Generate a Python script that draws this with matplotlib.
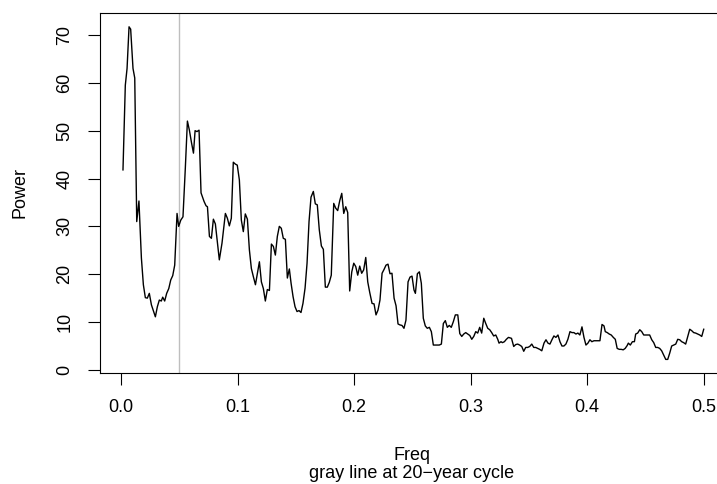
import matplotlib
matplotlib.use("Agg")
import matplotlib.pyplot as plt

freq = [
    0.0015, 0.0035, 0.0050, 0.0067, 0.0081, 0.0101, 0.0116, 0.0133, 0.0152, 0.0173,
    0.0190, 0.0207, 0.0224, 0.0241, 0.0259, 0.0293, 0.0310, 0.0327, 0.0344, 0.0356,
    0.0373, 0.0390, 0.0408, 0.0425, 0.0442, 0.0459, 0.0479, 0.0493, 0.0511, 0.0530,
    0.0550, 0.0568, 0.0585, 0.0603, 0.0620, 0.0634, 0.0650, 0.0668, 0.0685, 0.0711,
    0.0728, 0.0740, 0.0757, 0.0774, 0.0791, 0.0808, 0.0842, 0.0865, 0.0894, 0.0911,
    0.0928, 0.0945, 0.0962, 0.0980, 0.0996, 0.1014, 0.1031, 0.1048, 0.1065, 0.1083,
    0.1100, 0.1117, 0.1134, 0.1152, 0.1169, 0.1186, 0.1203, 0.1220, 0.1237, 0.1254,
    0.1272, 0.1289, 0.1306, 0.1323, 0.1340, 0.1357, 0.1374, 0.1391, 0.1409, 0.1426,
    0.1443, 0.1458, 0.1475, 0.1492, 0.1509, 0.1526, 0.1543, 0.1560, 0.1578, 0.1595,
    0.1612, 0.1629, 0.1649, 0.1666, 0.1683, 0.1700, 0.1718, 0.1735, 0.1752, 0.1769,
    0.1786, 0.1803, 0.1824, 0.1841, 0.1858, 0.1876, 0.1893, 0.1910, 0.1927, 0.1944,
    0.1961, 0.1979, 0.1996, 0.2013, 0.2030, 0.2047, 0.2064, 0.2081, 0.2099, 0.2116,
    0.2133, 0.2153, 0.2170, 0.2187, 0.2204, 0.2221, 0.2239, 0.2256, 0.2273, 0.2290,
    0.2307, 0.2324, 0.2342, 0.2359, 0.2376, 0.2393, 0.2410, 0.2427, 0.2444, 0.2462,
    0.2479, 0.2496, 0.2513, 0.2525, 0.2542, 0.2559, 0.2576, 0.2593, 0.2610, 0.2627,
    0.2645, 0.2662, 0.2679, 0.2696, 0.2713, 0.2730, 0.2748, 0.2765, 0.2782, 0.2799,
    0.2816, 0.2833, 0.2851, 0.2868, 0.2889, 0.2906, 0.2923, 0.2940, 0.2957, 0.2974,
    0.2992, 0.3009, 0.3026, 0.3043, 0.3060, 0.3077, 0.3094, 0.3112, 0.3129, 0.3146,
    0.3163, 0.3180, 0.3197, 0.3215, 0.3232, 0.3243, 0.3260, 0.3272, 0.3289, 0.3306,
    0.3324, 0.3350, 0.3369, 0.3386, 0.3403, 0.3420, 0.3438, 0.3455, 0.3472, 0.3489,
    0.3506, 0.3524, 0.3541, 0.3558, 0.3575, 0.3592, 0.3610, 0.3629, 0.3646, 0.3663,
    0.3680, 0.3697, 0.3714, 0.3731, 0.3749, 0.3766, 0.3783, 0.3800, 0.3817, 0.3834,
    0.3852, 0.3869, 0.3886, 0.3903, 0.3920, 0.3937, 0.3955, 0.3972, 0.3989, 0.4006,
    0.4023, 0.4040, 0.4058, 0.4075, 0.4092, 0.4109, 0.4127, 0.4144, 0.4155, 0.4172,
    0.4189, 0.4206, 0.4224, 0.4241, 0.4257, 0.4275, 0.4292, 0.4309, 0.4326, 0.4343,
    0.4353, 0.4370, 0.4388, 0.4405, 0.4416, 0.4433, 0.4451, 0.4468, 0.4485, 0.4502,
    0.4519, 0.4536, 0.4554, 0.4571, 0.4588, 0.4605, 0.4622, 0.4639, 0.4657, 0.4674,
    0.4691, 0.4708, 0.4725, 0.4742, 0.4760, 0.4777, 0.4794, 0.4811, 0.4828, 0.4845,
    0.4863, 0.4880, 0.4897, 0.4914, 0.4931, 0.4948, 0.4966, 0.4983, 0.5000,
]

power = [
    41.8, 59.5, 63.0, 71.7, 71.2, 63.0, 61.0, 31.0, 35.3, 23.4,
    17.8, 15.1, 15.0, 16.0, 13.6, 11.1, 13.2, 14.6, 14.4, 15.2,
    14.4, 16.0, 17.0, 18.8, 19.7, 21.9, 32.7, 30.0, 31.3, 32.0,
    42.1, 52.0, 50.1, 47.5, 45.3, 50.0, 49.8, 50.1, 37.0, 35.2,
    34.3, 34.1, 27.9, 27.5, 31.5, 30.5, 23.0, 26.5, 32.7, 31.7,
    30.1, 31.7, 43.4, 43.0, 42.8, 39.7, 31.3, 28.9, 32.6, 31.5,
    25.1, 21.2, 19.5, 17.8, 20.2, 22.6, 18.4, 17.0, 14.4, 16.8,
    16.6, 26.3, 25.8, 24.0, 27.9, 30.0, 29.6, 27.5, 27.3, 19.2,
    21.1, 18.1, 15.3, 13.2, 12.2, 12.4, 12.0, 13.9, 17.1, 22.3,
    31.0, 36.1, 37.3, 34.7, 34.5, 29.3, 25.9, 25.2, 17.3, 17.3,
    18.3, 19.8, 34.8, 33.8, 33.3, 35.4, 36.9, 32.7, 34.1, 32.9,
    16.5, 20.5, 22.3, 21.6, 19.8, 21.7, 20.2, 20.9, 23.5, 18.4,
    16.2, 13.9, 13.8, 11.5, 12.5, 14.6, 20.2, 21.0, 21.9, 22.1,
    20.1, 20.2, 15.0, 13.4, 9.6, 9.4, 9.3, 8.7, 10.4, 18.4,
    19.4, 19.6, 16.7, 16.0, 20.1, 20.5, 18.1, 10.8, 9.2, 8.7,
    8.9, 8.0, 5.2, 5.2, 5.2, 5.2, 5.4, 9.7, 10.3, 8.9,
    9.3, 8.9, 10.1, 11.5, 11.5, 7.6, 7.0, 7.5, 7.8, 7.5,
    7.2, 6.4, 7.0, 8.0, 7.7, 8.9, 7.7, 10.8, 9.7, 8.7,
    8.4, 7.8, 7.1, 7.3, 6.4, 5.6, 5.9, 5.7, 5.9, 6.4,
    6.8, 6.6, 4.9, 5.3, 5.4, 5.2, 4.9, 3.9, 4.7, 4.7,
    4.9, 5.4, 4.7, 4.7, 4.5, 4.3, 4.0, 5.6, 6.3, 5.6,
    5.4, 6.3, 7.1, 6.8, 7.3, 5.9, 5.0, 5.0, 5.4, 6.4,
    8.0, 7.8, 7.8, 7.5, 7.7, 7.3, 9.0, 6.8, 5.2, 5.6,
    6.3, 5.9, 6.1, 6.1, 6.1, 6.1, 9.5, 9.2, 8.0, 7.8,
    7.5, 7.3, 6.8, 6.4, 4.5, 4.3, 4.3, 4.2, 4.5, 5.1,
    5.6, 5.2, 5.9, 5.9, 7.5, 7.7, 8.4, 8.0, 7.3, 7.3,
    7.3, 7.3, 6.3, 5.7, 4.7, 4.7, 4.5, 4.0, 3.1, 2.2,
    2.2, 3.5, 5.0, 5.2, 5.4, 6.4, 6.3, 5.9, 5.7, 5.4,
    7.0, 8.5, 8.2, 7.8, 7.7, 7.5, 7.3, 7.0, 8.5,
]

xticks = [0.0, 0.1, 0.2, 0.3, 0.4, 0.5]
xtick_labels = ["0.0", "0.1", "0.2", "0.3", "0.4", "0.5"]
yticks = [0, 10, 20, 30, 40, 50, 60, 70]
ytick_labels = ["0", "10", "20", "30", "40", "50", "60", "70"]
cycle_freq = 1 / 20

plt.rcParams['font.family'] = ['Liberation Sans', 'DejaVu Sans']

W, H = 717, 484
fig = plt.figure(figsize=(W / 100, H / 100), dpi=100)
left_px, right_px = 99.8, 726.9
top_px, bottom_px = 13.4, 372.8
ax = fig.add_axes([left_px / W, 1 - bottom_px / H,
                   (right_px - left_px) / W, (bottom_px - top_px) / H])

ax.axvline(cycle_freq, color="#BEBEBE", linewidth=1.0)
ax.plot(freq, power, color="black", linewidth=1.0)

ax.set_xlim(-0.0184, 0.5199)
ax.set_ylim(-0.6, 74.5)

ax.set_xticks(xticks)
ax.set_xticklabels(xtick_labels)
ax.set_yticks(yticks)
ax.set_yticklabels(ytick_labels, rotation=90, va="center")

ax.tick_params(axis="both", direction="out", length=8.5, width=0.8,
               labelsize=13, pad=10.5)
for s in ax.spines.values():
    s.set_linewidth(0.8)

fig.text(412 / W, 1 - 455 / H, "Freq", ha="center", va="center", fontsize=13)
fig.text(412 / W, 1 - 473 / H, "gray line at 20\u2212year cycle",
         ha="center", va="center", fontsize=13)
fig.text(20 / W, 1 - 193 / H, "Power", ha="center", va="center",
         rotation=90, fontsize=13)

fig.savefig("out.png", dpi=100)
